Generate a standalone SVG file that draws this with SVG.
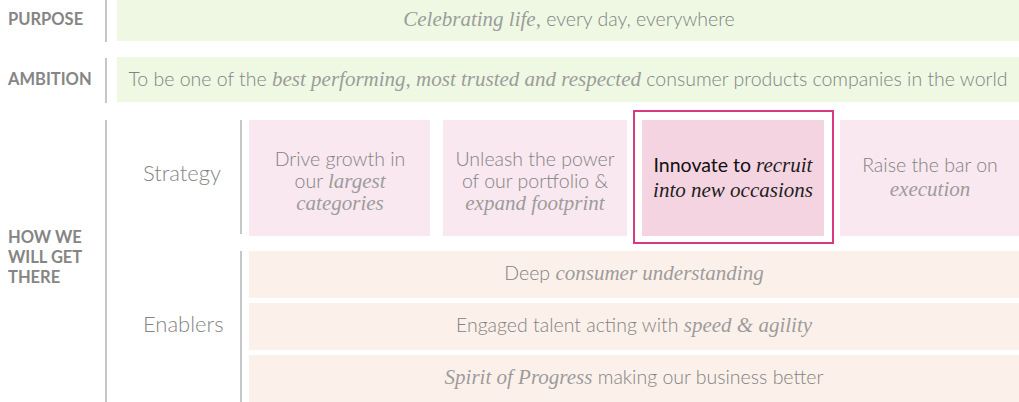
<svg xmlns="http://www.w3.org/2000/svg" width="1019" height="402" viewBox="0 0 1019 402">
<style>
.bg{fill:#ffffff}
.green{fill:#eef8e3}
.pink{fill:#f9e8ef}
.hot{fill:#f5d4e2}
.peach{fill:#fcf0ea}
.rule{stroke:#a8a8a8;stroke-width:1.3;fill:none}
.lab{font-family:Lato,"Liberation Sans",sans-serif;font-weight:700;font-size:16.5px;fill:#858585}
.sec{font-family:Lato,"Liberation Sans",sans-serif;font-weight:300;font-size:22px;fill:#858585}
.t{font-family:Lato,"Liberation Sans",sans-serif;font-weight:300;font-size:19.5px;fill:#838383}
.i{font-family:"Liberation Serif","DejaVu Serif",serif;font-style:italic;font-weight:400;font-size:21px;fill:#9c9c9c}
.dark{fill:#111111}
.i.dark{fill:#1e1e1e}
.t.dark{font-weight:400}
</style>
<rect class="bg" x="0" y="0" width="1019" height="402"/>

<g id="connectors">
<line class="rule" x1="106" y1="0" x2="106" y2="42"/>
<line class="rule" x1="106" y1="58" x2="106" y2="103"/>
<line class="rule" x1="106" y1="120" x2="106" y2="402"/>
<line class="rule" x1="241" y1="120" x2="241" y2="234"/>
<line class="rule" x1="241" y1="251" x2="241" y2="402"/>
</g>

<g id="label-purpose"><text class="lab" x="8" y="25">PURPOSE</text></g>
<g id="label-ambition"><text class="lab" x="8" y="85">AMBITION</text></g>
<g id="label-how"><text class="lab" x="8" y="243">HOW WE</text><text class="lab" x="8" y="263">WILL GET</text><text class="lab" x="8" y="283">THERE</text></g>
<g id="label-strategy"><text class="sec" x="143" y="181">Strategy</text></g>
<g id="label-enablers"><text class="sec" x="143" y="332">Enablers</text></g>

<g id="purpose">
<rect class="green" x="117" y="0" width="902" height="41"/>
<text class="t" x="569" y="26" text-anchor="middle"><tspan class="i">Celebrating life,</tspan> every day, everywhere</text>
</g>

<g id="ambition">
<rect class="green" x="117" y="57" width="902" height="45"/>
<text class="t" x="568" y="86" text-anchor="middle">To be one of the <tspan class="i">best performing, most trusted and respected</tspan> consumer products companies in the world</text>
</g>

<g id="strategy-1">
<rect class="pink" x="249" y="120" width="181" height="116"/>
<text class="t" x="340" y="166" text-anchor="middle">Drive growth in</text>
<text class="t" x="340" y="188" text-anchor="middle">our <tspan class="i">largest</tspan></text>
<text class="t" x="340" y="210" text-anchor="middle"><tspan class="i">categories</tspan></text>
</g>

<g id="strategy-2">
<rect class="pink" x="443" y="120" width="184" height="116"/>
<text class="t" x="535" y="166" text-anchor="middle">Unleash the power</text>
<text class="t" x="535" y="188" text-anchor="middle">of our portfolio &amp;</text>
<text class="t" x="535" y="210" text-anchor="middle"><tspan class="i">expand footprint</tspan></text>
</g>

<g id="strategy-3">
<rect x="634" y="111" width="199" height="132" fill="none" stroke="#d63a82" stroke-width="2"/>
<rect class="hot" x="642" y="120" width="182" height="116"/>
<text class="t dark" x="733" y="172" text-anchor="middle">Innovate to <tspan class="i dark">recruit</tspan></text>
<text class="t dark" x="733" y="197" text-anchor="middle"><tspan class="i dark">into new occasions</tspan></text>
</g>

<g id="strategy-4">
<rect class="pink" x="840" y="120" width="179" height="116"/>
<text class="t" x="930" y="172" text-anchor="middle">Raise the bar on</text>
<text class="t" x="930" y="196" text-anchor="middle"><tspan class="i">execution</tspan></text>
</g>

<g id="enabler-1">
<rect class="peach" x="249" y="251" width="770" height="47"/>
<text class="t" x="634" y="280" text-anchor="middle">Deep <tspan class="i">consumer understanding</tspan></text>
</g>

<g id="enabler-2">
<rect class="peach" x="249" y="303" width="770" height="47"/>
<text class="t" x="634" y="332" text-anchor="middle">Engaged talent acting with <tspan class="i">speed &amp; agility</tspan></text>
</g>

<g id="enabler-3">
<rect class="peach" x="249" y="355" width="770" height="47"/>
<text class="t" x="634" y="384" text-anchor="middle"><tspan class="i">Spirit of Progress</tspan> making our business better</text>
</g>
</svg>
